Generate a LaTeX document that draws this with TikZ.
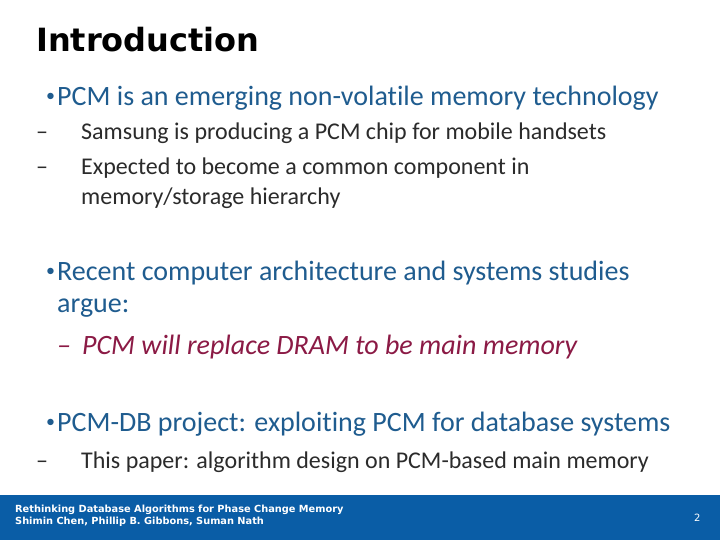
\documentclass[tikz,border=0pt]{standalone}
\usepackage{fontspec}
\setmainfont[RawFeature={-liga}]{Carlito}
\newfontfamily\titlefont{DejaVu Sans}
\definecolor{bt}{HTML}{1F5C8F}
\definecolor{st}{HTML}{2B2B2B}
\definecolor{rd}{HTML}{8B1A45}
\definecolor{ft}{HTML}{0A5DA6}
\begin{document}
\begin{tikzpicture}[x=1pt,y=-1pt,
  t/.style={anchor=base west,inner sep=0pt},
  b1/.style={t,text=bt,font=\fontsize{28}{32}\selectfont},
  b2/.style={t,text=st,font=\fontsize{24}{28}\selectfont},
  dot/.style={t,text=bt,font=\fontsize{18}{20}\selectfont}]
\useasboundingbox (0,0) rectangle (720,540);
\fill[white] (0,0) rectangle (720,540);
\node[t,font=\titlefont\bfseries\fontsize{32}{36}\selectfont] (title) at (36,52) {Introduction};
\node[dot] (d1) at (46,102) {•};
\node[b1] (l1) at (57,106) {PCM is an emerging non-volatile memory technology};
\node[b2] (s1d) at (36,140) {–};
\node[b2] (s1) at (81,140) {Samsung is producing a PCM chip for mobile handsets};
\node[b2] (s2d) at (36,175) {–};
\node[b2] (s2) at (81,175) {Expected to become a common component in};
\node[b2] (s2b) at (81,205) {memory/storage hierarchy};
\node[dot] (d2) at (46,276) {•};
\node[b1] (l2) at (57,280) {Recent computer architecture and systems studies};
\node[b1] (l2b) at (57,312) {argue:};
\node[b1,text=rd,font=\fontsize{28}{32}\selectfont\itshape] (r) at (57,354) {–\hspace{11pt}PCM will replace DRAM to be main memory};
\node[dot] (d3) at (46,427) {•};
\node[b1] (l3) at (57,431) {PCM-DB project: exploiting PCM for database systems};
\node[b2] (s3d) at (36,468) {–};
\node[b2] (s3) at (81,468) {This paper: algorithm design on PCM-based main memory};
\fill[ft] (0,495) rectangle (720,540);
\node[t,text=white,font=\titlefont\bfseries\fontsize{9.8}{11}\selectfont] (f1) at (15,512) {Rethinking Database Algorithms for Phase Change Memory};
\node[t,text=white,font=\titlefont\bfseries\fontsize{9.8}{11}\selectfont] (f2) at (15,524) {Shimin Chen, Phillip B. Gibbons, Suman Nath};
\node[t,text=white,font=\titlefont\fontsize{10}{11}\selectfont] (pg) at (694,521) {2};
\end{tikzpicture}
\end{document}
